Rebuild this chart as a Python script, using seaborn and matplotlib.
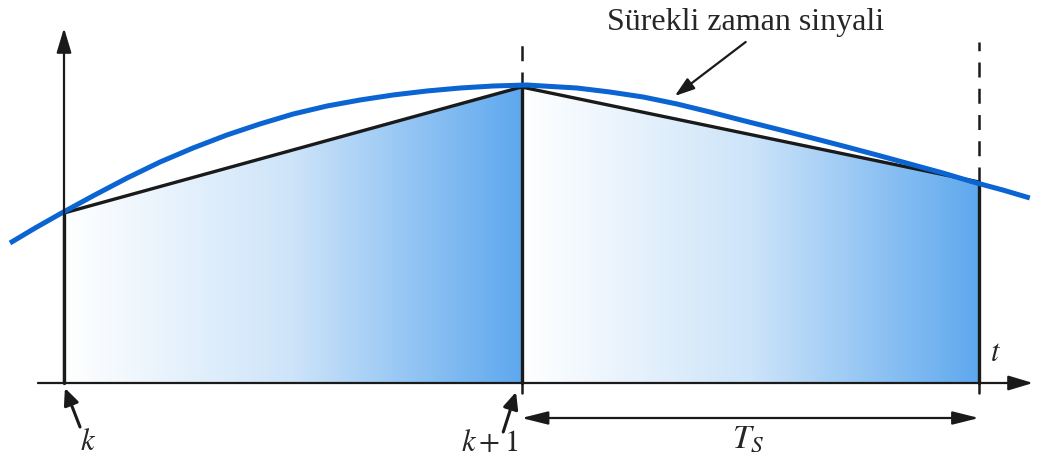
import numpy as np
import pandas as pd
import matplotlib.pyplot as plt
import seaborn as sns
from matplotlib.colors import LinearSegmentedColormap
from matplotlib.patches import Polygon

# Sürekli sinyal (resimden okunan noktalar), zaman birimi = örnek periyodu
signal_t = [-0.118, -0.063, -0.009, 0.063, 0.138, 0.210, 0.282, 0.356, 0.428,
            0.501, 0.575, 0.647, 0.719, 0.793, 0.866, 0.938, 1.012, 1.047,
            1.121, 1.193, 1.266, 1.340, 1.412, 1.484, 1.558, 1.631, 1.703,
            1.777, 1.849, 1.921, 1.987, 2.052, 2.111]
signal_v = [1.40, 1.55, 1.69, 1.87, 2.05, 2.21, 2.35, 2.48, 2.59,
            2.69, 2.77, 2.83, 2.88, 2.92, 2.95, 2.97, 2.98, 2.97,
            2.95, 2.91, 2.86, 2.79, 2.71, 2.625, 2.54, 2.455, 2.37,
            2.28, 2.19, 2.10, 2.01, 1.93, 1.85]

# Örnekler k, k+1, k+2
sample_t = [0, 1, 2]
sample_v = [1.70, 2.96, 2.01]

sample_labels = ["$k$", "$k+1$"]
title_text = "Sürekli zaman sinyali"
ts_label = "$T_S$"
axis_label = "$t$"

sns.set_style("white")
plt.rcParams["font.family"] = ["Liberation Serif", "DejaVu Serif"]
plt.rcParams["mathtext.fontset"] = "stix"

fig = plt.figure(figsize=(10.41, 4.61), dpi=100)
ax = fig.add_axes([0, 0, 1, 1])
ax.set_xlim(-0.1399, 2.1355)
ax.set_ylim(-0.78, 3.83)
ax.axis("off")

dark = "#1a1a1a"

# Gradyan dolgu (her aralıkta beyazdan maviye)
cmap = LinearSegmentedColormap.from_list("grad", ["#ffffff", "#cde4f9", "#5ea8ee"])
grad = np.linspace(0, 1, 256).reshape(1, -1)
for i in range(len(sample_t) - 1):
    t0, t1 = sample_t[i], sample_t[i + 1]
    v0, v1 = sample_v[i], sample_v[i + 1]
    poly = Polygon([(t0, 0), (t0, v0), (t1, v1), (t1, 0)], closed=True,
                   facecolor="none", edgecolor="none")
    ax.add_patch(poly)
    im = ax.imshow(grad, cmap=cmap, aspect="auto", extent=[t0, t1, 0, max(v0, v1)],
                   origin="lower", zorder=1)
    im.set_clip_path(poly)

# Örnek dikey çizgileri
for t, v in zip(sample_t, sample_v):
    ax.plot([t, t], [0, v], color=dark, lw=2.4, zorder=3)

# Kesikli çizgiler
dash_top = [3.38, 3.41]
for t, top in zip(sample_t[1:], dash_top):
    v = sample_v[sample_t.index(t)]
    ax.plot([t, t], [v, top], color=dark, lw=1.8, ls=(0, (6, 4.5)), zorder=3)
    ax.plot([t, t], [0, -0.10], color=dark, lw=1.8, zorder=3)

# Doğrusal yaklaşım
df_s = pd.DataFrame({"t": sample_t, "v": sample_v})
sns.lineplot(data=df_s, x="t", y="v", ax=ax, color=dark, lw=2.4, zorder=4)

# Sürekli zaman sinyali
df_c = pd.DataFrame({"t": signal_t, "v": signal_v})
sns.lineplot(data=df_c, x="t", y="v", ax=ax, color="#0a64d2", lw=3.6, zorder=5,
             sort=False, solid_joinstyle="round", solid_capstyle="butt")

# Eksenler
arrow_kw = dict(arrowstyle="-|>,head_length=1.5,head_width=0.45", color=dark,
                lw=1.6, shrinkA=0, shrinkB=0)
ax.annotate("", xy=(2.118, 0), xytext=(-0.057, 0), arrowprops=arrow_kw, zorder=6)
ax.annotate("", xy=(0, 3.55), xytext=(0, 0), arrowprops=arrow_kw, zorder=6)
ax.text(2.035, 0.30, axis_label, fontsize=22, ha="center", va="center")

# T_S çift oku
ax.annotate("", xy=(sample_t[2], -0.35), xytext=(sample_t[1], -0.35),
            arrowprops=dict(arrowstyle="<|-|>,head_length=1.6,head_width=0.4",
                            color=dark, lw=1.6, shrinkA=0, shrinkB=0))
ax.text(1.495, -0.56, ts_label, fontsize=24, ha="center", va="center")

# k ve k+1 etiketleri
lbl_arrow = dict(arrowstyle="-|>,head_length=1.0,head_width=0.45", color=dark,
                 lw=2.2, shrinkA=0, shrinkB=0)
ax.annotate("", xy=(0.002, -0.05), xytext=(0.035, -0.44), arrowprops=lbl_arrow,
            zorder=6)
ax.text(0.052, -0.59, sample_labels[0], fontsize=22, ha="center", va="center")
ax.annotate("", xy=(0.988, -0.09), xytext=(0.960, -0.49), arrowprops=lbl_arrow,
            zorder=6)
ax.text(0.931, -0.60, sample_labels[1], fontsize=22, ha="center", va="center")

# Başlık ve oku
ax.text(1.49, 3.61, title_text, fontsize=23, ha="center", va="center")
ax.annotate("", xy=(1.335, 2.87), xytext=(1.49, 3.41),
            arrowprops=dict(arrowstyle="-|>,head_length=1.2,head_width=0.4",
                            color=dark, lw=1.6, shrinkA=0, shrinkB=0))

fig.savefig("out.png", dpi=100)
